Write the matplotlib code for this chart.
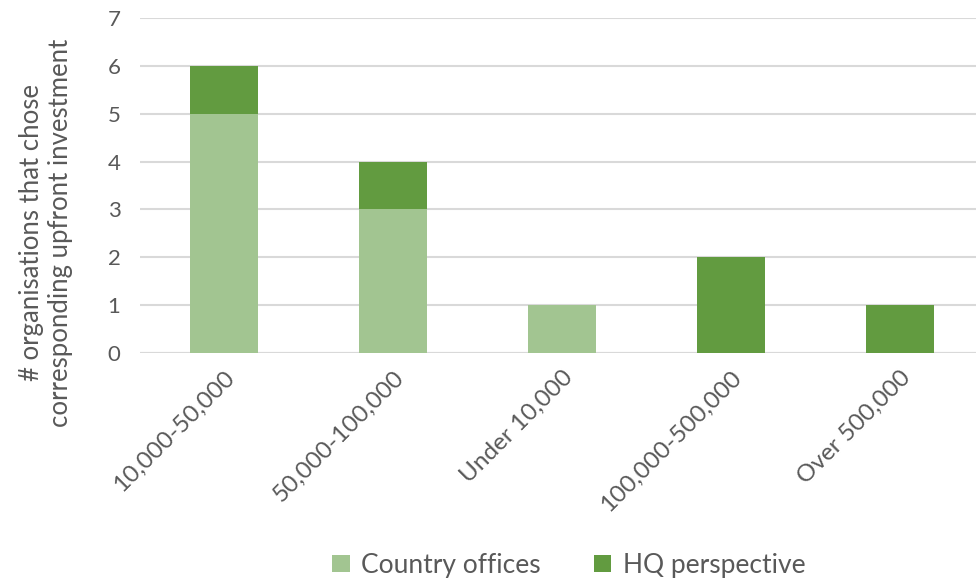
import matplotlib
matplotlib.use("Agg")
import matplotlib.pyplot as plt
import numpy as np

# Upfront investment bands and counts per respondent group
categories = ['10,000-50,000', '50,000-100,000', 'Under 10,000', '100,000-500,000', 'Over 500,000']
country_offices = [5, 3, 1, 0, 0]
hq_perspective = [1, 1, 0, 2, 1]

light_green = '#A2C591'
dark_green = '#629B40'
text_gray = '#595959'
grid_gray = '#D9D9D9'

plt.rcParams['font.family'] = ['Lato', 'DejaVu Sans']

fig = plt.figure(figsize=(9.76, 5.81), dpi=100)
ax = fig.add_axes([0.1434, 0.3924, 0.8566, 0.5766])

x = np.arange(len(categories))
width = 0.40
ax.bar(x, country_offices, width, color=light_green, label='Country offices', zorder=3)
ax.bar(x, hq_perspective, width, bottom=country_offices, color=dark_green,
       label='HQ perspective', zorder=3)

ax.set_xlim(-0.497, 4.45)
ax.set_ylim(0, 7)
ax.set_yticks(range(0, 8))
ax.yaxis.grid(True, color=grid_gray, linewidth=1.5, zorder=0)
ax.set_axisbelow(True)
for side in ['top', 'right', 'left', 'bottom']:
    ax.spines[side].set_visible(False)
ax.axhline(0, color=grid_gray, linewidth=1.5, zorder=1)

ax.tick_params(axis='both', length=0, colors=text_gray)
ax.tick_params(axis='y', labelsize=16, pad=14)
ax.set_xticks(x)
ax.set_xticklabels(categories, rotation=45, ha='right', rotation_mode='anchor')
ax.tick_params(axis='x', labelsize=17.5, pad=10)

# axis title sits lower than the plot centre, spanning down past the tick labels
fig.text(0.047, 0.60, '# organisations that chose\ncorresponding upfront investment',
         rotation=90, ha='center', va='center', fontsize=18.5, color=text_gray,
         linespacing=1.2)

fig.legend(loc='lower center', bbox_to_anchor=(0.583, -0.035), ncol=2, frameon=False,
           fontsize=19, labelcolor=text_gray, handlelength=0.65, handleheight=0.65,
           handletextpad=0.45, columnspacing=2.0)

fig.savefig('out.png', dpi=100)
